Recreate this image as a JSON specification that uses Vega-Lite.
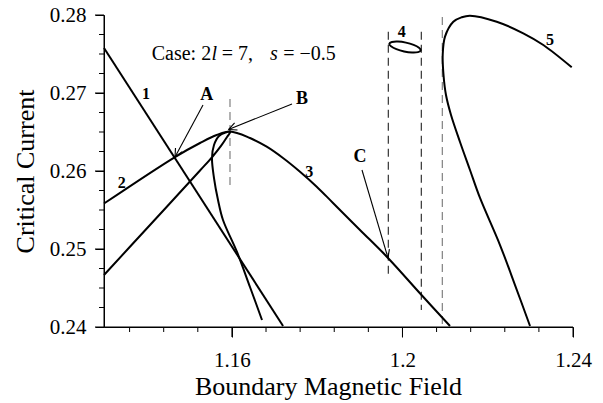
{
  "$schema": "https://vega.github.io/schema/vega-lite/v6.json",
  "width": 469,
  "height": 312,
  "autosize": "none",
  "padding": {"left": 104, "top": 15, "right": 30, "bottom": 76},
  "config": {
    "view": {"strokeWidth": 0},
    "axis": {
      "labelFont": "Liberation Serif",
      "labelFontSize": 21,
      "titleFont": "Liberation Serif",
      "titleFontSize": 26,
      "titleFontWeight": "normal",
      "labelColor": "black",
      "titleColor": "black",
      "grid": false,
      "labelFlush": false,
      "labelOverlap": false,
      "domainColor": "black",
      "tickColor": "black"
    }
  },
  "datasets": {
    "curves": [
      {"c": "1", "i": 0, "x": 1.13, "y": 0.27577},
      {"c": "1", "i": 1, "x": 1.172, "y": 0.24013},
      {"c": "2", "i": 0, "x": 1.13, "y": 0.25583},
      {"c": "2", "i": 1, "x": 1.14665, "y": 0.26179},
      {"c": "2", "i": 2, "x": 1.15252, "y": 0.26359},
      {"c": "2", "i": 3, "x": 1.15643, "y": 0.26462},
      {"c": "2", "i": 4, "x": 1.15955, "y": 0.26506},
      {"c": "2", "i": 5, "x": 1.16424, "y": 0.26423},
      {"c": "2", "i": 6, "x": 1.16816, "y": 0.26312},
      {"c": "2", "i": 7, "x": 1.17198, "y": 0.26167},
      {"c": "2", "i": 8, "x": 1.17597, "y": 0.25991},
      {"c": "2", "i": 9, "x": 1.17989, "y": 0.25799},
      {"c": "2", "i": 10, "x": 1.18371, "y": 0.2559},
      {"c": "2", "i": 11, "x": 1.19004, "y": 0.25244},
      {"c": "2", "i": 12, "x": 1.19661, "y": 0.24885},
      {"c": "2", "i": 13, "x": 1.20447, "y": 0.2441},
      {"c": "2", "i": 14, "x": 1.21115, "y": 0.24013},
      {"c": "3", "i": 0, "x": 1.13, "y": 0.24667},
      {"c": "3", "i": 1, "x": 1.14079, "y": 0.25308},
      {"c": "3", "i": 2, "x": 1.15252, "y": 0.26006},
      {"c": "3", "i": 3, "x": 1.15557, "y": 0.26192},
      {"c": "3", "i": 4, "x": 1.15744, "y": 0.26321},
      {"c": "3", "i": 5, "x": 1.15885, "y": 0.26436},
      {"c": "3", "i": 6, "x": 1.15967, "y": 0.26506},
      {"c": "3", "i": 7, "x": 1.15861, "y": 0.26494},
      {"c": "3", "i": 8, "x": 1.15697, "y": 0.26449},
      {"c": "3", "i": 9, "x": 1.1558, "y": 0.26333},
      {"c": "3", "i": 10, "x": 1.15533, "y": 0.26167},
      {"c": "3", "i": 11, "x": 1.1558, "y": 0.2591},
      {"c": "3", "i": 12, "x": 1.15674, "y": 0.25628},
      {"c": "3", "i": 13, "x": 1.15791, "y": 0.25372},
      {"c": "3", "i": 14, "x": 1.16119, "y": 0.24962},
      {"c": "3", "i": 15, "x": 1.16424, "y": 0.24513},
      {"c": "3", "i": 16, "x": 1.16706, "y": 0.2409},
      {"c": "5", "i": 0, "x": 1.2397, "y": 0.27329},
      {"c": "5", "i": 1, "x": 1.23304, "y": 0.27615},
      {"c": "5", "i": 2, "x": 1.22834, "y": 0.27765},
      {"c": "5", "i": 3, "x": 1.22211, "y": 0.27914},
      {"c": "5", "i": 4, "x": 1.21584, "y": 0.27991},
      {"c": "5", "i": 5, "x": 1.2139, "y": 0.27971},
      {"c": "5", "i": 6, "x": 1.21193, "y": 0.27914},
      {"c": "5", "i": 7, "x": 1.20998, "y": 0.27722},
      {"c": "5", "i": 8, "x": 1.20944, "y": 0.27487},
      {"c": "5", "i": 9, "x": 1.20963, "y": 0.27231},
      {"c": "5", "i": 10, "x": 1.21021, "y": 0.26974},
      {"c": "5", "i": 11, "x": 1.21139, "y": 0.26718},
      {"c": "5", "i": 12, "x": 1.2135, "y": 0.26372},
      {"c": "5", "i": 13, "x": 1.21584, "y": 0.26013},
      {"c": "5", "i": 14, "x": 1.21819, "y": 0.25654},
      {"c": "5", "i": 15, "x": 1.22288, "y": 0.25051},
      {"c": "5", "i": 16, "x": 1.2264, "y": 0.24538},
      {"c": "5", "i": 17, "x": 1.22992, "y": 0.24013}
    ],
    "loop4": [
      {"i": 0, "x": 1.20427, "y": 0.27547},
      {"i": 1, "x": 1.20367, "y": 0.27524},
      {"i": 2, "x": 1.20224, "y": 0.27519},
      {"i": 3, "x": 1.20039, "y": 0.27533},
      {"i": 4, "x": 1.19858, "y": 0.27562},
      {"i": 5, "x": 1.19731, "y": 0.27599},
      {"i": 6, "x": 1.19693, "y": 0.27632},
      {"i": 7, "x": 1.19752, "y": 0.27655},
      {"i": 8, "x": 1.19896, "y": 0.2766},
      {"i": 9, "x": 1.20081, "y": 0.27646},
      {"i": 10, "x": 1.20262, "y": 0.27617},
      {"i": 11, "x": 1.20388, "y": 0.27581}
    ],
    "grayDashes": [
      {"x": 1.15955, "y": 0.26923, "y2": 0.25795},
      {"x": 1.20935, "y": 0.27974, "y2": 0.24}
    ],
    "blackDashes": [
      {"x": 1.19668, "y": 0.27786, "y2": 0.24628},
      {"x": 1.20442, "y": 0.27786, "y2": 0.24218}
    ],
    "arrows": [
      {"x": 1.15322, "y": 0.26846, "x2": 1.14665, "y2": 0.26179},
      {"x": 1.14665, "y": 0.26179, "x2": 1.14834, "y2": 0.26249},
      {"x": 1.14665, "y": 0.26179, "x2": 1.14677, "y2": 0.26295},
      {"x": 1.17409, "y": 0.26859, "x2": 1.1592, "y2": 0.26532},
      {"x": 1.1592, "y": 0.26532, "x2": 1.16131, "y2": 0.26526},
      {"x": 1.1592, "y": 0.26532, "x2": 1.16063, "y2": 0.26617},
      {"x": 1.19051, "y": 0.26013, "x2": 1.19661, "y2": 0.24885},
      {"x": 1.19661, "y": 0.24885, "x2": 1.19694, "y2": 0.24999},
      {"x": 1.19661, "y": 0.24885, "x2": 1.1952, "y2": 0.24971}
    ],
    "frame": [
      {"x": 1.13, "y": 0.24, "x2": 1.24, "y2": 0.24},
      {"x": 1.13, "y": 0.24, "x2": 1.13, "y2": 0.28}
    ],
    "numbers": [
      {"x": 1.13985, "y": 0.26987, "t": "1"},
      {"x": 1.13415, "y": 0.25846, "t": "2"},
      {"x": 1.17815, "y": 0.25983, "t": "3"},
      {"x": 1.19982, "y": 0.27786, "t": "4"},
      {"x": 1.23461, "y": 0.27679, "t": "5"}
    ],
    "letters": [
      {"x": 1.15409, "y": 0.26974, "t": "A"},
      {"x": 1.17644, "y": 0.26923, "t": "B"},
      {"x": 1.19004, "y": 0.26183, "t": "C"}
    ],
    "caseNormal": [
      {"x": 1.14119, "y": 0.27423, "t": "Case: 2"},
      {"x": 1.15761, "y": 0.27423, "t": "= 7,"},
      {"x": 1.17205, "y": 0.27423, "t": "= −0.5"}
    ],
    "caseItalic": [
      {"x": 1.15521, "y": 0.27423, "t": "l"},
      {"x": 1.16893, "y": 0.27423, "t": "s"}
    ],
    "xMinor": [
      {"x": 1.136, "y": 0.24}, {"x": 1.144, "y": 0.24}, {"x": 1.152, "y": 0.24}, {"x": 1.168, "y": 0.24},
      {"x": 1.176, "y": 0.24}, {"x": 1.184, "y": 0.24}, {"x": 1.192, "y": 0.24}, {"x": 1.208, "y": 0.24},
      {"x": 1.216, "y": 0.24}, {"x": 1.224, "y": 0.24}, {"x": 1.232, "y": 0.24}
    ],
    "xMajor": [{"x": 1.16, "y": 0.24}, {"x": 1.2, "y": 0.24}, {"x": 1.24, "y": 0.24}],
    "yMinor": [
      {"x": 1.13, "y": 0.2425}, {"x": 1.13, "y": 0.245}, {"x": 1.13, "y": 0.2475}, {"x": 1.13, "y": 0.2525},
      {"x": 1.13, "y": 0.255}, {"x": 1.13, "y": 0.2575}, {"x": 1.13, "y": 0.2625}, {"x": 1.13, "y": 0.265},
      {"x": 1.13, "y": 0.2675}, {"x": 1.13, "y": 0.2725}, {"x": 1.13, "y": 0.275}, {"x": 1.13, "y": 0.2775}
    ],
    "yMajor": [
      {"x": 1.13, "y": 0.24}, {"x": 1.13, "y": 0.25}, {"x": 1.13, "y": 0.26}, {"x": 1.13, "y": 0.27}, {"x": 1.13, "y": 0.28}
    ]
  },
  "encoding": {
    "x": {
      "field": "x",
      "type": "quantitative",
      "scale": {"domain": [1.13, 1.24], "nice": false, "zero": false},
      "axis": {
        "title": "Boundary Magnetic Field",
        "values": [1.16, 1.2, 1.24],
        "format": "~g",
        "domain": true,
        "tickSize": 10,
        "labelPadding": 12,
        "titleBaseline": "alphabetic",
        "titleY": 67,
        "titleX": 224
      }
    },
    "y": {
      "field": "y",
      "type": "quantitative",
      "scale": {"domain": [0.24, 0.28], "nice": false, "zero": false},
      "axis": {
        "title": "Critical Current",
        "values": [0.24, 0.25, 0.26, 0.27, 0.28],
        "format": ".2f",
        "domain": true,
        "tickSize": 9,
        "labelPadding": 9,
        "titleBaseline": "alphabetic",
        "titleX": -71
      }
    }
  },
  "layer": [
    {
      "data": {"name": "grayDashes"},
      "mark": {"type": "rule", "color": "#808080", "strokeWidth": 1.2, "strokeDash": [8, 5]},
      "encoding": {"y2": {"field": "y2"}}
    },
    {
      "data": {"name": "blackDashes"},
      "mark": {"type": "rule", "color": "#222222", "strokeWidth": 1.1, "strokeDash": [8, 5]},
      "encoding": {"y2": {"field": "y2"}}
    },
    {
      "data": {"name": "curves"},
      "mark": {"type": "line", "color": "black", "strokeWidth": 2, "interpolate": "catmull-rom"},
      "encoding": {
        "detail": {"field": "c", "type": "nominal"},
        "order": {"field": "i", "type": "quantitative"}
      }
    },
    {
      "data": {"name": "loop4"},
      "mark": {"type": "line", "color": "black", "strokeWidth": 2, "interpolate": "cardinal-closed"},
      "encoding": {
        "order": {"field": "i", "type": "quantitative"}
      }
    },
    {
      "data": {"name": "arrows"},
      "mark": {"type": "rule", "color": "black", "strokeWidth": 1.1},
      "encoding": {"x2": {"field": "x2"}, "y2": {"field": "y2"}}
    },
    {
      "data": {"name": "frame"},
      "mark": {"type": "rule", "color": "black", "strokeWidth": 1},
      "encoding": {"x2": {"field": "x2"}, "y2": {"field": "y2"}}
    },
    {
      "data": {"name": "xMinor"},
      "mark": {"type": "tick", "orient": "vertical", "size": 5, "thickness": 1, "yOffset": 2.5, "color": "black", "opacity": 1}
    },
    {
      "data": {"name": "xMajor"},
      "mark": {"type": "tick", "orient": "vertical", "size": 10, "thickness": 1, "yOffset": 5, "color": "black", "opacity": 1}
    },
    {
      "data": {"name": "yMinor"},
      "mark": {"type": "tick", "orient": "horizontal", "size": 5, "thickness": 1, "xOffset": -2.5, "color": "black", "opacity": 1}
    },
    {
      "data": {"name": "yMajor"},
      "mark": {"type": "tick", "orient": "horizontal", "size": 9, "thickness": 1, "xOffset": -4.5, "color": "black", "opacity": 1}
    },
    {
      "data": {"name": "numbers"},
      "mark": {"type": "text", "font": "Liberation Serif", "fontSize": 16, "fontWeight": "bold", "align": "center", "baseline": "middle", "color": "black"},
      "encoding": {"text": {"field": "t"}}
    },
    {
      "data": {"name": "letters"},
      "mark": {"type": "text", "font": "Liberation Serif", "fontSize": 18, "fontWeight": "bold", "align": "center", "baseline": "middle", "color": "black"},
      "encoding": {"text": {"field": "t"}}
    },
    {
      "data": {"name": "caseNormal"},
      "mark": {"type": "text", "font": "Liberation Serif", "fontSize": 20, "align": "left", "baseline": "alphabetic", "color": "black"},
      "encoding": {"text": {"field": "t"}}
    },
    {
      "data": {"name": "caseItalic"},
      "mark": {"type": "text", "font": "Liberation Serif", "fontSize": 20, "fontStyle": "italic", "align": "left", "baseline": "alphabetic", "color": "black"},
      "encoding": {"text": {"field": "t"}}
    }
  ]
}
